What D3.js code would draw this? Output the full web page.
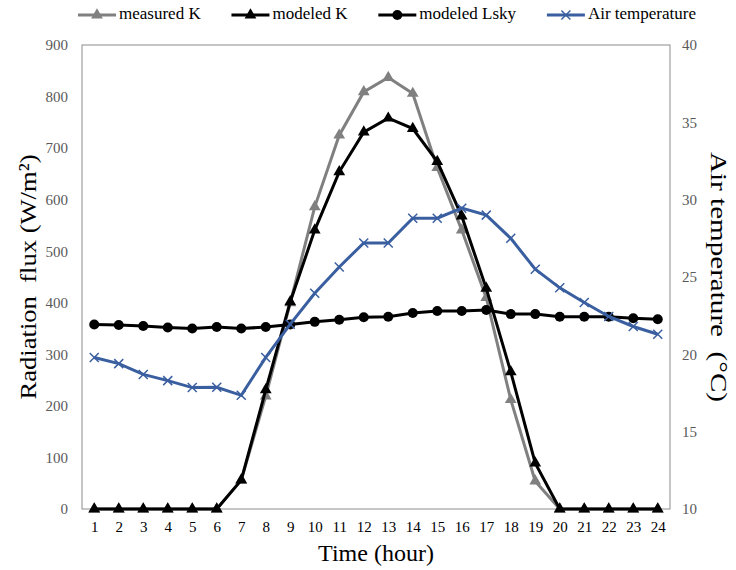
<!DOCTYPE html>
<html>
<head>
<meta charset="utf-8">
<script src="https://cdn.jsdelivr.net/npm/d3@7"></script>
<style>
  body { margin: 0; background: #fff; }
  text { font-family: "Liberation Serif", "Times New Roman", serif; }
</style>
</head>
<body>
<div id="chart"></div>
<script>

// data
const hours = d3.range(1, 25);
const measuredK = [0, 0, 0, 0, 0, 0, 56, 219, 400, 586, 725, 809, 837, 806, 662, 541, 410, 212, 54, 0, 0, 0, 0, 0];
const modeledK = [0, 0, 0, 0, 0, 0, 56, 231, 402, 541, 654, 731, 758, 738, 674, 568, 428, 266, 89, 0, 0, 0, 0, 0];
const modeledLsky = [358, 357, 355, 352, 350, 353, 350, 353, 358, 363, 367, 372, 373, 380, 384, 384, 386, 378, 378, 373, 373, 373, 370, 368];
const airTemp = [19.8, 19.4, 18.7, 18.3, 17.85, 17.87, 17.35, 19.8, 21.95, 23.95, 25.65, 27.2, 27.2, 28.8, 28.8, 29.45, 29.0, 27.5, 25.5, 24.3, 23.35, 22.45, 21.8, 21.3];
const leftTicks = d3.range(0, 901, 100);
const rightTicks = d3.range(10, 41, 5);

const series = [
    {name: "measured K", values: measuredK, color: "#808080", marker: "triangle", axis: "left"},
    {name: "modeled K", values: modeledK, color: "#000000", marker: "triangle", axis: "left"},
    {name: "modeled Lsky", values: modeledLsky, color: "#000000", marker: "circle", axis: "left"},
    {name: "Air temperature", values: airTemp, color: "#3A5FA0", marker: "cross", axis: "right"}
];

const W = 736, H = 570;
const margin = {top: 45, right: 66, bottom: 61, left: 82};
const width = W - margin.left - margin.right;
const height = H - margin.top - margin.bottom;

const svg = d3.select("#chart").append("svg")
    .attr("width", W)
    .attr("height", H);

const g = svg.append("g")
    .attr("transform", `translate(${margin.left}, ${margin.top})`);

// scales
const x = d3.scalePoint().domain(hours).range([0, width]).padding(0.5);
const yL = d3.scaleLinear().domain([0, 900]).range([height, 0]);
const yR = d3.scaleLinear().domain([10, 40]).range([height, 0]);

// frame
g.append("rect")
    .attr("width", width)
    .attr("height", height)
    .attr("fill", "none")
    .attr("stroke", "#8c8c8c")
    .attr("stroke-width", 1);

// axes
const styleAxis = sel => {
    sel.select(".domain").remove();
    sel.selectAll("line").remove();
    sel.selectAll("text")
        .attr("fill", "#595959")
        .style("font-size", "15px");
};

g.append("g")
    .call(d3.axisLeft(yL).tickValues(leftTicks).tickSize(0).tickPadding(14))
    .call(styleAxis);

g.append("g")
    .attr("transform", `translate(${width}, 0)`)
    .call(d3.axisRight(yR).tickValues(rightTicks).tickSize(0).tickPadding(12))
    .call(styleAxis);

g.append("g")
    .attr("transform", `translate(0, ${height})`)
    .call(d3.axisBottom(x).tickSize(0).tickPadding(12))
    .call(styleAxis)
    .selectAll("text").attr("fill", "#000");

// axis titles
svg.append("text")
    .attr("transform", `translate(30, ${margin.top + height / 2}) rotate(-90)`)
    .attr("text-anchor", "middle")
    .attr("dominant-baseline", "middle")
    .attr("textLength", 245)
    .attr("lengthAdjust", "spacingAndGlyphs")
    .style("font-size", "24px")
    .style("white-space", "pre")
    .text("Radiation  flux (W/m²)");

svg.append("text")
    .attr("transform", `translate(716, ${margin.top + height / 2}) rotate(90)`)
    .attr("text-anchor", "middle")
    .attr("dominant-baseline", "middle")
    .attr("textLength", 250)
    .attr("lengthAdjust", "spacingAndGlyphs")
    .style("font-size", "24px")
    .style("white-space", "pre")
    .text("Air temperature  (°C)");

svg.append("text")
    .attr("x", margin.left + width / 2)
    .attr("y", 561)
    .attr("text-anchor", "middle")
    .style("font-size", "24px")
    .text("Time (hour)");

// markers
const drawMarker = (sel, type, color, size) => {
    if (type === "triangle") {
        sel.append("path")
            .attr("d", d3.symbol(d3.symbolTriangle, size * 6)())
            .attr("fill", color);
    } else if (type === "circle") {
        sel.append("circle").attr("r", size / 2 + 0.5).attr("fill", color);
    } else {
        const s = size / 2;
        sel.append("path")
            .attr("d", `M${-s},${-s}L${s},${s}M${-s},${s}L${s},${-s}`)
            .attr("stroke", color)
            .attr("stroke-width", 1.5)
            .attr("fill", "none");
    }
};

// lines and points
series.forEach(s => {
    const yScale = s.axis === "left" ? yL : yR;
    const line = d3.line()
        .x((d, i) => x(hours[i]))
        .y(d => yScale(d));

    g.append("path")
        .datum(s.values)
        .attr("fill", "none")
        .attr("stroke", s.color)
        .attr("stroke-width", 3)
        .attr("d", line);

    g.selectAll(null)
        .data(s.values)
        .enter().append("g")
        .attr("transform", (d, i) => `translate(${x(hours[i])}, ${yScale(d)})`)
        .each(function () { drawMarker(d3.select(this), s.marker, s.color, s.marker === "triangle" ? 10 : 9); });
});

// legend: items spread evenly between x=78 and x=696
const legend = svg.append("g").attr("transform", "translate(0, 15)");
const items = series.map(s => {
    const item = legend.append("g");
    item.append("line")
        .attr("x1", 0).attr("x2", 38)
        .attr("stroke", s.color)
        .attr("stroke-width", 3);
    const m = item.append("g").attr("transform", "translate(19, 0)");
    drawMarker(m, s.marker, s.color, s.marker === "triangle" ? 10 : 9);
    const t = item.append("text")
        .attr("x", 41)
        .attr("dominant-baseline", "middle")
        .style("font-size", "17px")
        .text(s.name);
    return {item, w: 41 + t.node().getComputedTextLength()};
});
const legStart = 78, legEnd = 696;
const gap = (legEnd - legStart - d3.sum(items, d => d.w)) / (items.length - 1);
let lx = legStart;
items.forEach(d => {
    d.item.attr("transform", `translate(${lx}, 0)`);
    lx += d.w + gap;
});

</script>
</body>
</html>
